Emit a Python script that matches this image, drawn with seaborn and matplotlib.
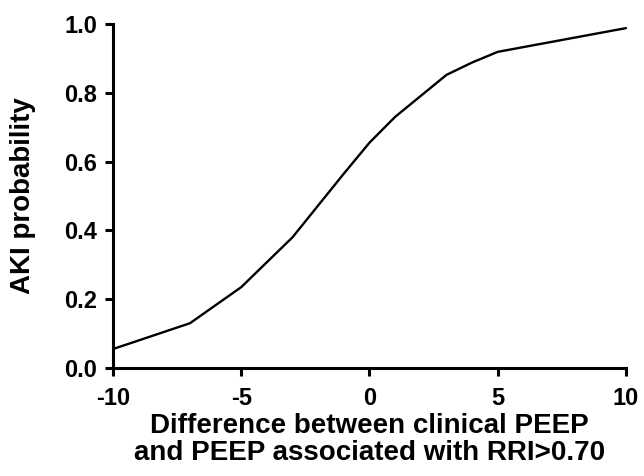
import matplotlib
matplotlib.use("Agg")
import matplotlib.pyplot as plt
import seaborn as sns
import pandas as pd

peep_diff = [-10, -9, -7, -5, -3, -1, 0, 1, 3, 4, 5, 10]
aki_prob = [0.055, 0.08, 0.13, 0.235, 0.38, 0.565, 0.655, 0.73, 0.852, 0.888, 0.919, 0.988]
x_ticks = [-10, -5, 0, 5, 10]
y_ticks = [0.0, 0.2, 0.4, 0.6, 0.8, 1.0]

sns.set_theme(style="ticks", rc={"text.color": "black", "axes.labelcolor": "black",
                                 "xtick.color": "black", "ytick.color": "black",
                                 "axes.edgecolor": "black"})
plt.rcParams['font.family'] = ['Liberation Sans', 'DejaVu Sans']

df = pd.DataFrame({"x": peep_diff, "y": aki_prob})

fig = plt.figure(figsize=(6.44, 4.76), dpi=100)
ax = fig.add_axes([0.1755, 0.227, 0.7965, 0.7226])
sns.lineplot(data=df, x="x", y="y", ax=ax, color="black", linewidth=1.7)

ax.set_xlim(-10, 10)
ax.set_ylim(0, 1.0)
ax.set_xticks(x_ticks)
ax.set_xticklabels([str(t) for t in x_ticks])
ax.set_yticks(y_ticks)
ax.set_yticklabels([f"{t:.1f}" for t in y_ticks])
for s in ["top", "right"]:
    ax.spines[s].set_visible(False)
for s in ["left", "bottom"]:
    ax.spines[s].set_linewidth(2.2)
    ax.spines[s].set_color("black")
ax.tick_params(axis="both", width=2.2, length=6, direction="out", color="black",
               labelsize=17)
ax.tick_params(axis="y", pad=5.5)
ax.tick_params(axis="x", pad=7.5)
for lab in ax.get_xticklabels() + ax.get_yticklabels():
    lab.set_fontweight("bold")
ax.set_xlabel("Difference between clinical PEEP\nand PEEP associated with RRI>0.70",
              fontsize=20, fontweight="bold", linespacing=1.08, va="top")
ax.set_ylabel("AKI probability", fontsize=20, fontweight="bold", va="bottom")
ax.xaxis.set_label_coords(0.5, -0.13)
ax.yaxis.set_label_coords(-0.150, 0.5)
for sp in ax.spines.values():
    sp.set_clip_on(False)
ax.lines[0].set_clip_on(False)

fig.savefig("out.png", dpi=100)
